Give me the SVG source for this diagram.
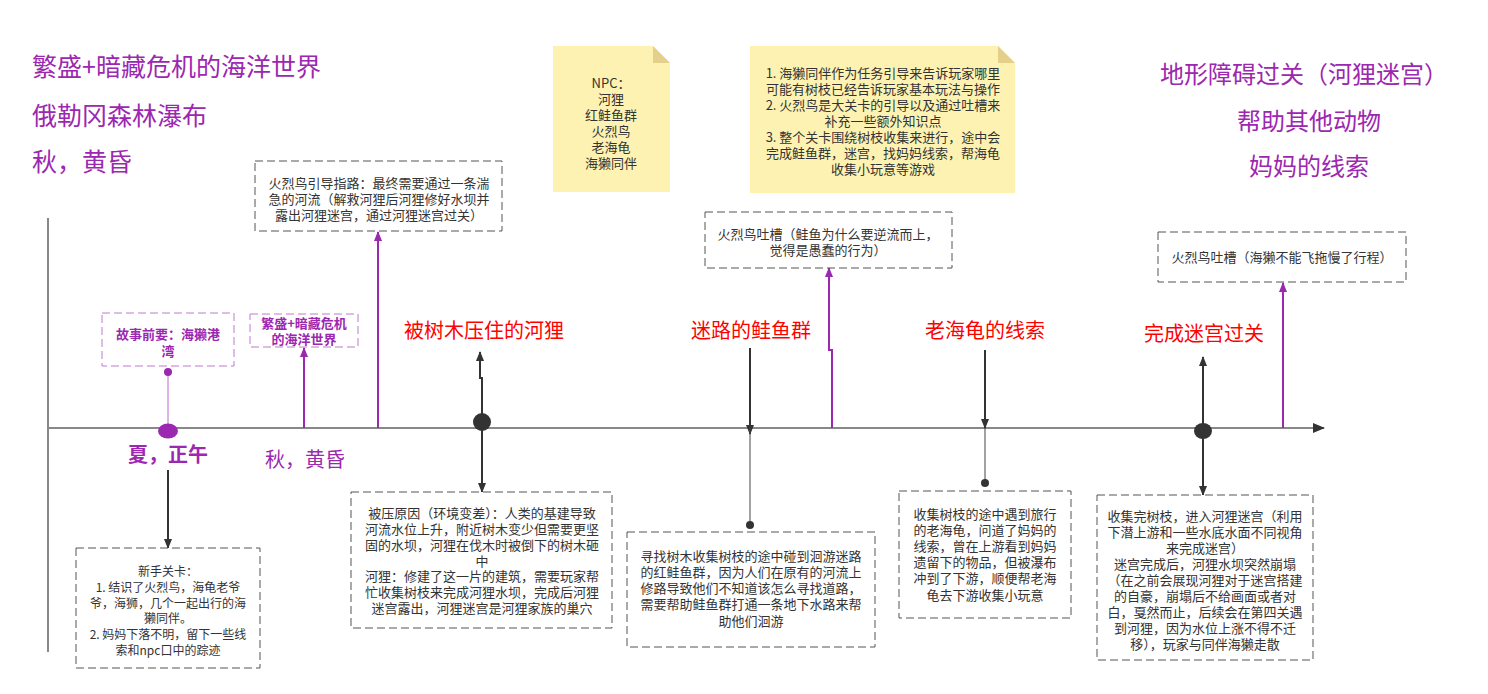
<svg xmlns="http://www.w3.org/2000/svg" width="1488" height="694" viewBox="0 0 1488 694">
  <style>
    text { font-family: "Noto Sans CJK SC", "Noto Sans", sans-serif; }
    .title { font-size: 25px; fill: #9C27B0; }
    .title-r { font-size: 24px; fill: #9C27B0; text-anchor: middle; }
    .red { font-size: 20px; fill: #FF0000; text-anchor: middle; }
    .season { font-size: 20px; fill: #9C27B0; text-anchor: middle; }
    .body { font-size: 13px; fill: #333333; text-anchor: middle; }
    .small { font-size: 12px; fill: #333333; text-anchor: middle; }
    .ptag { font-size: 13px; fill: #9C27B0; font-weight: bold; text-anchor: middle; }
    .box { fill: #ffffff; stroke: #555555; stroke-width: 1; stroke-dasharray: 8 4; }
    .pbox { fill: #ffffff; stroke: #BE7ACF; stroke-width: 1; stroke-dasharray: 8 4; }
    .note { fill: #FDF2B2; }
    .fold { fill: #E3D08A; }
    .dark { stroke: #333333; stroke-width: 2; fill: none; }
    .purple { stroke: #9C27B0; stroke-width: 2; fill: none; }
    .thin { stroke: #444444; stroke-width: 1; fill: none; }
    .axis { stroke: #888888; stroke-width: 2; fill: none; }
  </style>
  <defs>
    <marker id="arrDark" markerWidth="10" markerHeight="10" refX="9" refY="5" orient="auto" markerUnits="userSpaceOnUse">
      <path d="M0,1 L10,5 L0,9 z" fill="#333333"/>
    </marker>
    <marker id="arrPurple" markerWidth="10" markerHeight="10" refX="9" refY="5" orient="auto" markerUnits="userSpaceOnUse">
      <path d="M0,1 L10,5 L0,9 z" fill="#9C27B0"/>
    </marker>
    <marker id="arrGrey" markerWidth="12" markerHeight="12" refX="11" refY="6" orient="auto" markerUnits="userSpaceOnUse">
      <path d="M0,1 L12,6 L0,11 z" fill="#333333"/>
    </marker>
  </defs>

  <rect width="1488" height="694" fill="#ffffff"/>

  <!-- headings -->
  <g id="heading-left">
    <text class="title" x="32" y="76">繁盛+暗藏危机的海洋世界</text>
    <text class="title" x="32" y="125">俄勒冈森林瀑布</text>
    <text class="title" x="32" y="171">秋，黄昏</text>
  </g>
  <g id="heading-right">
    <text class="title-r" x="1304" y="83">地形障碍过关（河狸迷宫）</text>
    <text class="title-r" x="1309" y="130">帮助其他动物</text>
    <text class="title-r" x="1309" y="175">妈妈的线索</text>
  </g>

  <!-- notes -->
  <g id="note-npc">
    <path class="note" d="M553,46 H653 L670,63 V192 H553 Z"/>
    <path class="fold" d="M653,46 L670,63 H653 Z"/>
    <text class="body" x="611" y="88">NPC：<tspan x="611" dy="16">河狸</tspan><tspan x="611" dy="16">红鲑鱼群</tspan><tspan x="611" dy="16">火烈鸟</tspan><tspan x="611" dy="16">老海龟</tspan><tspan x="611" dy="16">海獭同伴</tspan></text>
  </g>
  <g id="note-design">
    <path class="note" d="M750,46 H998 L1015,63 V193 H750 Z"/>
    <path class="fold" d="M998,46 L1015,63 H998 Z"/>
    <text class="body" x="883" y="78">1. 海獭同伴作为任务引导来告诉玩家哪里<tspan x="883" dy="16">可能有树枝已经告诉玩家基本玩法与操作</tspan><tspan x="883" dy="16">2. 火烈鸟是大关卡的引导以及通过吐槽来</tspan><tspan x="883" dy="16">补充一些额外知识点</tspan><tspan x="883" dy="16">3. 整个关卡围绕树枝收集来进行，途中会</tspan><tspan x="883" dy="16">完成鲑鱼群，迷宫，找妈妈线索，帮海龟</tspan><tspan x="883" dy="16">收集小玩意等游戏</tspan></text>
  </g>

  <!-- connectors -->
  <g id="connectors">
    <line class="axis" x1="48" y1="218" x2="48" y2="652"/>
    <line class="axis" x1="48" y1="428" x2="1324" y2="428" marker-end="url(#arrGrey)"/>
    <!-- prologue -->
    <line x1="168" y1="372" x2="168" y2="428" stroke="#B868CC" stroke-width="1"/>
    <line class="dark" x1="168" y1="470" x2="168" y2="548" marker-end="url(#arrDark)"/>
    <line class="purple" x1="304" y1="428" x2="304" y2="348" marker-end="url(#arrPurple)"/>
    <line class="purple" x1="378" y1="428" x2="378" y2="232" marker-end="url(#arrPurple)"/>
    <!-- beaver -->
    <path class="dark" d="M482,422 V378 H480 V352" marker-end="url(#arrDark)"/>
    <line class="dark" x1="482" y1="424" x2="482" y2="492" marker-end="url(#arrDark)"/>
    <!-- salmon -->
    <line class="dark" x1="750" y1="348" x2="750" y2="434" marker-end="url(#arrDark)"/>
    <line class="thin" x1="750" y1="428" x2="750" y2="525"/>
    <path class="purple" d="M832,428 V350 H829 V268" marker-end="url(#arrPurple)"/>
    <!-- turtle -->
    <line class="dark" x1="985" y1="350" x2="985" y2="428" marker-end="url(#arrDark)"/>
    <line class="thin" x1="985" y1="428" x2="985" y2="483"/>
    <!-- maze -->
    <line class="dark" x1="1203" y1="431" x2="1203" y2="357" marker-end="url(#arrDark)"/>
    <line class="dark" x1="1203" y1="431" x2="1203" y2="495" marker-end="url(#arrDark)"/>
    <line class="purple" x1="1283" y1="428" x2="1283" y2="283" marker-end="url(#arrPurple)"/>
    <!-- joints -->
    <ellipse cx="168" cy="431" rx="10" ry="7.5" fill="#9C27B0"/>
    <circle cx="168" cy="372" r="4" fill="#9C27B0"/>
    <ellipse cx="482" cy="422" rx="9" ry="9" fill="#333333"/>
    <circle cx="750" cy="525" r="4" fill="#333333"/>
    <circle cx="985" cy="483" r="4" fill="#333333"/>
    <ellipse cx="1203" cy="431" rx="9" ry="8" fill="#333333"/>
  </g>

  <!-- timeline labels -->
  <g id="label-summer">
    <text class="season" x="168" y="462" font-weight="bold">夏，正午</text>
  </g>
  <g id="label-autumn">
    <text class="season" x="305" y="467">秋，黄昏</text>
  </g>
  <g id="label-beaver">
    <text class="red" x="484" y="338">被树木压住的河狸</text>
  </g>
  <g id="label-salmon">
    <text class="red" x="751" y="338">迷路的鲑鱼群</text>
  </g>
  <g id="label-turtle">
    <text class="red" x="985" y="338">老海龟的线索</text>
  </g>
  <g id="label-maze">
    <text class="red" x="1204" y="341">完成迷宫过关</text>
  </g>

  <!-- purple tags -->
  <g id="tag-prologue">
    <rect class="pbox" x="102" y="313" width="132" height="53"/>
    <text class="ptag" x="168" y="339">故事前要：海獭港<tspan x="168" dy="17">湾</tspan></text>
  </g>
  <g id="tag-world">
    <rect class="pbox" x="250" y="314" width="108" height="33"/>
    <text class="ptag" x="304" y="328">繁盛+暗藏危机<tspan x="304" dy="16">的海洋世界</tspan></text>
  </g>

  <!-- text boxes -->
  <g id="box-flamingo-guide">
    <rect class="box" x="255" y="161" width="247" height="70"/>
    <text class="body" x="379" y="188">火烈鸟引导指路：最终需要通过一条湍<tspan x="379" dy="16">急的河流（解救河狸后河狸修好水坝并</tspan><tspan x="379" dy="16">露出河狸迷宫，通过河狸迷宫过关）</tspan></text>
  </g>
  <g id="box-flamingo-salmon">
    <rect class="box" x="705" y="212" width="247" height="56"/>
    <text class="body" x="828" y="239">火烈鸟吐槽（鲑鱼为什么要逆流而上，<tspan x="828" dy="16">觉得是愚蠢的行为）</tspan></text>
  </g>
  <g id="box-flamingo-otter">
    <rect class="box" x="1158" y="232" width="248" height="50"/>
    <text class="body" x="1282" y="262">火烈鸟吐槽（海獭不能飞拖慢了行程）</text>
  </g>
  <g id="box-tutorial">
    <rect class="box" x="76" y="548" width="184" height="120"/>
    <text class="small" x="168" y="576">新手关卡：<tspan x="168" dy="16">1. 结识了火烈鸟，海龟老爷</tspan><tspan x="168" dy="16">爷，海狮，几个一起出行的海</tspan><tspan x="168" dy="15">獭同伴。</tspan><tspan x="168" dy="16">2. 妈妈下落不明，留下一些线</tspan><tspan x="168" dy="16">索和npc口中的踪迹</tspan></text>
  </g>
  <g id="box-beaver">
    <rect class="box" x="351" y="492" width="261" height="136"/>
    <text class="body" x="482" y="518">被压原因（环境变差）：人类的基建导致<tspan x="482" dy="16">河流水位上升，附近树木变少但需要更坚</tspan><tspan x="482" dy="16">固的水坝，河狸在伐木时被倒下的树木砸</tspan><tspan x="482" dy="16">中</tspan><tspan x="482" dy="15">河狸：修建了这一片的建筑，需要玩家帮</tspan><tspan x="482" dy="16">忙收集树枝来完成河狸水坝，完成后河狸</tspan><tspan x="482" dy="16">迷宫露出，河狸迷宫是河狸家族的巢穴</tspan></text>
  </g>
  <g id="box-salmon">
    <rect class="box" x="627" y="532" width="248" height="115"/>
    <text class="body" x="751" y="561">寻找树木收集树枝的途中碰到洄游迷路<tspan x="751" dy="16">的红鲑鱼群，因为人们在原有的河流上</tspan><tspan x="751" dy="16">修路导致他们不知道该怎么寻找道路，</tspan><tspan x="751" dy="16">需要帮助鲑鱼群打通一条地下水路来帮</tspan><tspan x="751" dy="17">助他们洄游</tspan></text>
  </g>
  <g id="box-turtle">
    <rect class="box" x="899" y="491" width="172" height="127"/>
    <text class="body" x="985" y="519">收集树枝的途中遇到旅行<tspan x="985" dy="16">的老海龟，问道了妈妈的</tspan><tspan x="985" dy="16">线索，曾在上游看到妈妈</tspan><tspan x="985" dy="16">遗留下的物品，但被瀑布</tspan><tspan x="985" dy="16">冲到了下游，顺便帮老海</tspan><tspan x="985" dy="17">龟去下游收集小玩意</tspan></text>
  </g>
  <g id="box-maze">
    <rect class="box" x="1097" y="495" width="216" height="165"/>
    <text class="body" x="1205" y="521">收集完树枝，进入河狸迷宫（利用<tspan x="1205" dy="16">下潜上游和一些水底水面不同视角</tspan><tspan x="1205" dy="16">来完成迷宫）</tspan><tspan x="1205" dy="16">迷宫完成后，河狸水坝突然崩塌</tspan><tspan x="1205" dy="16">（在之前会展现河狸对于迷宫搭建</tspan><tspan x="1205" dy="16">的自豪，崩塌后不给画面或者对</tspan><tspan x="1205" dy="16">白，戛然而止，后续会在第四关遇</tspan><tspan x="1205" dy="16">到河狸，因为水位上涨不得不迁</tspan><tspan x="1205" dy="16">移），玩家与同伴海獭走散</tspan></text>
  </g>
</svg>
